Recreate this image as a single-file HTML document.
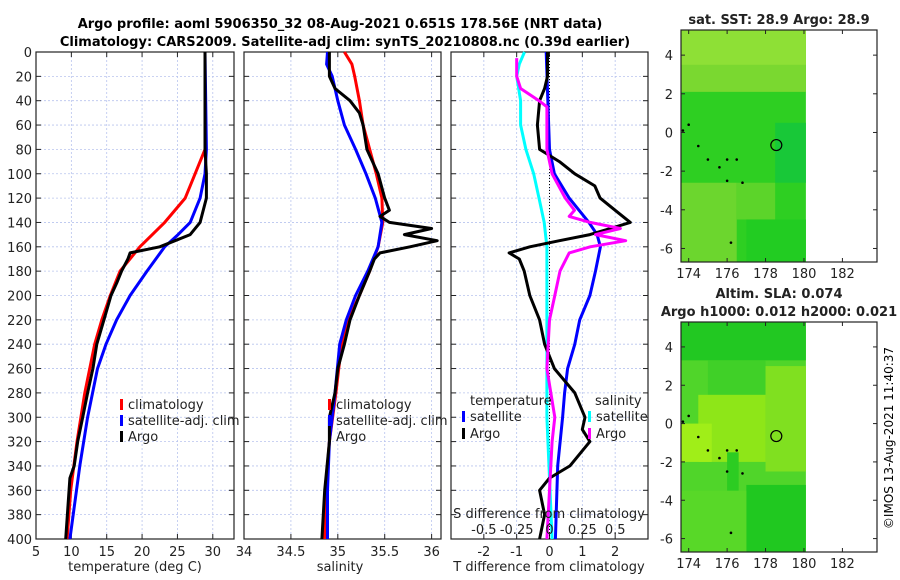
<!DOCTYPE html>
<html><head><meta charset="utf-8"><style>
body{margin:0;background:#fff;}
svg{display:block;font-family:"DejaVu Sans","Liberation Sans",sans-serif;}
</style></head><body>
<svg id="c" width="900" height="580" xmlns="http://www.w3.org/2000/svg">
<text x="340" y="28" font-size="13" font-weight="bold" text-anchor="middle">Argo profile: aoml 5906350_32 08-Aug-2021 0.651S 178.56E (NRT data)</text>
<text x="345" y="46" font-size="13" font-weight="bold" text-anchor="middle">Climatology: CARS2009. Satellite-adj clim: synTS_20210808.nc (0.39d earlier)</text>
<g id="maps"></g>
<g id="panels"></g>
<text transform="translate(893,438) rotate(-90)" font-size="12" text-anchor="middle">©IMOS 13-Aug-2021 11:40:37</text>
</svg>
<script>
// ---- data ----
const tDepth=[0,80,100,120,140,150,160,165,170,180,190,200,220,240,260,280,300,320,340,350,400];
const tArgo=[28.9,28.9,29.1,29.1,28.2,26.8,22.5,18.3,18.0,17.1,16.4,15.6,14.6,13.6,13.05,12.3,11.6,10.9,10.4,9.8,9.2];
const tcDepth=[0,80,100,120,140,160,180,200,220,240,280,320,360,400];
const tClim=[28.9,28.9,27.5,26.1,23.2,19.7,16.9,15.5,14.3,13.3,11.9,10.8,9.9,9.4];
const tsDepth=[0,80,100,120,140,150,160,180,200,220,240,260,300,340,400];
const tSat=[28.9,29.1,28.9,28.2,26.8,25.1,23.2,20.7,18.3,16.4,14.9,13.7,12.3,11.2,9.8];
const sDepth=[0,10,20,40,60,80,100,120,140,160,180,200,220,240,280,320,360,400];
const sClim=[35.07,35.15,35.18,35.23,35.27,35.34,35.41,35.47,35.48,35.43,35.34,35.23,35.11,35.04,34.98,34.91,34.87,34.86];
const sSat=[34.89,34.88,34.94,35.0,35.07,35.19,35.30,35.40,35.47,35.43,35.32,35.19,35.09,35.02,34.97,34.91,34.89,34.89];
const saDepth=[0,20,30,40,50,60,80,100,120,130,135,140,145,150,155,160,165,170,180,200,220,240,260,280,300,320,360,400];
const sArgo=[34.91,34.91,34.97,35.13,35.23,35.27,35.31,35.43,35.5,35.55,35.45,35.55,36.0,35.71,36.06,35.77,35.45,35.39,35.34,35.23,35.13,35.07,35.0,34.97,34.91,34.91,34.86,34.83];
const dtsDepth=[0,80,100,120,140,150,160,180,200,220,240,260,280,300,340,400];
const dTSat=[-0.1,0,0.15,0.6,1.2,1.45,1.55,1.4,1.23,0.92,0.77,0.55,0.46,0.4,0.25,0.18];
const dtaDepth=[0,20,30,40,60,80,90,100,110,120,130,140,145,150,155,160,165,170,180,200,220,240,260,280,300,310,320,340,350,360,380,400];
const dTArgo=[-0.06,-0.06,-0.15,-0.3,-0.37,-0.3,0.3,0.77,1.38,1.54,2.0,2.46,1.85,1.23,0.3,-0.6,-1.23,-0.92,-0.77,-0.6,-0.3,-0.15,0.15,0.77,1.08,1.0,1.23,0.62,0,-0.3,-0.15,-0.3];
const dssDepth=[0,10,20,40,60,80,100,120,140,160,200,300,400];
const dSSat=[-0.19,-0.23,-0.25,-0.22,-0.22,-0.18,-0.12,-0.08,-0.04,-0.02,-0.02,-0.02,0.02];
const dsaDepth=[5,20,30,40,45,60,80,100,120,130,135,140,145,150,155,160,165,180,200,220,260,300,320,360,400];
const dSArgo=[-0.25,-0.25,-0.22,-0.08,-0.02,-0.02,-0.02,0.02,0.12,0.19,0.15,0.31,0.54,0.35,0.58,0.31,0.15,0.08,0.04,0,-0.02,0.04,0.02,0,-0.02];
const depthTicks=[0,20,40,60,80,100,120,140,160,180,200,220,240,260,280,300,320,340,360,380,400];
const tTicks=[5,10,15,20,25,30];
const sTicks=[34,34.5,35,35.5,36];
const sTickLabels=["34","34.5","35","35.5","36"];
const dTTicks=[-2,-1,0,1,2];
const dSTicks=[-0.5,-0.25,0,0.25,0.5];
const dSTickLabels=["-0.5","-0.25","0","0.25","0.5"];
const lonTicks=[174,176,178,180,182];
const latTicks=[4,2,0,-2,-4,-6];
const argoLon=[178.56], argoLat=[-0.651];

const NS="http://www.w3.org/2000/svg";
function mk(tag,attrs,parent){const e=document.createElementNS(NS,tag);for(const k in attrs)e.setAttribute(k,attrs[k]);parent.appendChild(e);return e;}
const P=document.getElementById('panels');
const Y0=52,Y1=539;
const yS=d=>Y0+(d/400)*(Y1-Y0);
function linS(d0,d1,r0,r1){return v=>r0+(v-d0)/(d1-d0)*(r1-r0);}
function panel(name,x0,x1,dmin,dmax,xt,xtl,showY){
  const g=mk('g',{},P);
  
  
  const xs=linS(dmin,dmax,x0,x1);
  xt.forEach(v=>{const l=mk('line',{x1:xs(v),x2:xs(v),y1:Y0,y2:Y1,stroke:'#b8c4ee','stroke-width':0.8,'stroke-dasharray':'2,2'},g);});
  depthTicks.forEach(v=>{const l=mk('line',{x1:x0,x2:x1,y1:yS(v),y2:yS(v),stroke:'#b8c4ee','stroke-width':0.8,'stroke-dasharray':'2,2'},g);
    mk('line',{x1:x0,x2:x0+5,y1:yS(v),y2:yS(v),stroke:'#222'},g);mk('line',{x1:x1-5,x2:x1,y1:yS(v),y2:yS(v),stroke:'#222'},g);
    if(showY){const t=mk('text',{x:x0-4,y:yS(v)+5,'font-size':13,'text-anchor':'end',fill:'#222'},g);t.textContent=v;}
  });
  xt.forEach((v,i)=>{mk('line',{x1:xs(v),x2:xs(v),y1:Y1,y2:Y1-5,stroke:'#222'},g);mk('line',{x1:xs(v),x2:xs(v),y1:Y0,y2:Y0+5,stroke:'#222'},g);
    if(xtl){const t=mk('text',{x:xs(v),y:Y1+17,'font-size':13,'text-anchor':'middle',fill:'#222'},g);t.textContent=xtl[i];}});
  const r=mk('rect',{x:x0,y:Y0,width:x1-x0,height:Y1-Y0,fill:'none',stroke:'#222','stroke-width':1.2},g);
  
  return {g,xs};
}
function line(p,vals,deps,color,name,w){
  const pts=vals.map((v,i)=>p.xs(v).toFixed(1)+','+yS(deps[i]).toFixed(1)).join(' ');
  const l=mk('polyline',{points:pts,fill:'none',stroke:color,'stroke-width':w||3,'stroke-linejoin':'round'},p.g);
  
  
}
function txt(g,x,y,s,name,size,anchor,bold){const t=mk('text',{x:x,y:y,'font-size':size||13,'text-anchor':anchor||'start',fill:'#222','font-weight':bold?'bold':'normal'},g);t.textContent=s;return t;}
function legItem(g,x,y,color,label,name){const r=mk('rect',{x:x,y:y-10,width:3,height:11,fill:color},g);txt(g,x+8,y,label,name);}

// Panel 1
const p1=panel('temperature-panel',36,234,5,33,tTicks,tTicks.map(String),true);
line(p1,tClim,tcDepth,'#f00','climatology-temp-line');
line(p1,tSat,tsDepth,'#00f','satellite-temp-line');
line(p1,tArgo,tDepth,'#000','argo-temp-line');
legItem(p1.g,120,409,'#f00','climatology','legend-climatology');
legItem(p1.g,120,425,'#00f','satellite-adj. clim','legend-satellite');
legItem(p1.g,120,441,'#000','Argo','legend-argo');
txt(p1.g,135,571,'temperature (deg C)','x-axis-title-temperature',13,'middle');

// Panel 2
const p2=panel('salinity-panel',244,441,34,36.1,sTicks,sTickLabels,false);
line(p2,sClim,sDepth,'#f00','climatology-salinity-line');
line(p2,sSat,sDepth,'#00f','satellite-salinity-line');
line(p2,sArgo,saDepth,'#000','argo-salinity-line');
legItem(p2.g,328,409,'#f00','climatology','legend-climatology');
legItem(p2.g,328,425,'#00f','satellite-adj. clim','legend-satellite');
legItem(p2.g,328,441,'#000','Argo','legend-argo');
txt(p2.g,340,571,'salinity','x-axis-title-salinity',13,'middle');

// Panel 3
const p3=panel('difference-panel',451,648,-3,3,dTTicks,dTTicks.map(String),false);
const sx3=linS(-0.75,0.75,p3.xs(-3),p3.xs(3));
const zl=mk('line',{x1:p3.xs(0),x2:p3.xs(0),y1:Y0,y2:Y1,stroke:'#000','stroke-width':1,'stroke-dasharray':'1,2'},p3.g);

const p3s={g:p3.g,xs:sx3};
line(p3s,dSSat,dssDepth,'#0ff','satellite-salinity-diff-line');
line(p3,dTSat,dtsDepth,'#00f','satellite-temp-diff-line');
line(p3,dTArgo,dtaDepth,'#000','argo-temp-diff-line');
line(p3s,dSArgo,dsaDepth,'#f0f','argo-salinity-diff-line');
txt(p3.g,470,405,'temperature','legend-temperature-heading');
txt(p3.g,595,405,'salinity','legend-salinity-heading');
legItem(p3.g,462,421,'#00f','satellite','legend-temp-satellite');
legItem(p3.g,462,438,'#000','Argo','legend-temp-argo');
legItem(p3.g,588,421,'#0ff','satellite','legend-sal-satellite');
legItem(p3.g,588,438,'#f0f','Argo','legend-sal-argo');
txt(p3.g,549,518,'S difference from climatology','s-axis-title',13,'middle');
dSTicks.forEach((v,i)=>txt(p3.g,sx3(v),534,dSTickLabels[i],'s-tick-label',13,'middle'));
txt(p3.g,549,571,'T difference from climatology','x-axis-title-tdiff',13,'middle');

// Maps
const M=document.getElementById('maps');
function map(name,top,bot,title1,title2,blocks){
  const g=mk('g',{},M);
  
  
  const x0=681,x1=877;
  const lx=linS(173.6,183.8,x0,x1), ly=linS(5.3,-6.7,top,bot);
  blocks.forEach(b=>{const r=mk('rect',{x:lx(b[0]),y:ly(b[3]),width:lx(b[1])-lx(b[0]),height:ly(b[2])-ly(b[3]),fill:b[4]},g);});
  // islands
  [[173.7,0.1],[174,0.4],[174.5,-0.7],[175,-1.4],[175.6,-1.8],[176,-1.4],[176.5,-1.4],[176,-2.5],[176.8,-2.6],[176.2,-5.7]].forEach(p=>{const c=mk('circle',{cx:lx(p[0]),cy:ly(p[1]),r:1.3,fill:'#000'},g);});
  argoLon.forEach((v,i)=>{const c=mk('circle',{cx:lx(v),cy:ly(argoLat[i]),r:5.5,fill:'none',stroke:'#000','stroke-width':1.2},g);});
  const fr=mk('rect',{x:x0,y:top,width:x1-x0,height:bot-top,fill:'none',stroke:'#222','stroke-width':1.2},g);
  lonTicks.forEach(v=>{mk('line',{x1:lx(v),x2:lx(v),y1:bot,y2:bot-4,stroke:'#222'},g);mk('line',{x1:lx(v),x2:lx(v),y1:top,y2:top+4,stroke:'#222'},g);txt(g,lx(v),bot+16,String(v),'lon-tick-label',13,'middle');});
  latTicks.forEach(v=>{mk('line',{x1:x0,x2:x0+4,y1:ly(v),y2:ly(v),stroke:'#222'},g);mk('line',{x1:x1-4,x2:x1,y1:ly(v),y2:ly(v),stroke:'#222'},g);txt(g,x0-8,ly(v)+5,String(v),'lat-tick-label',13,'end');});
  txt(g,779,top-(title2?24:6),title1,'map-title',13,'middle',true);
  if(title2)txt(g,779,top-6,title2,'map-subtitle',13,'middle',true);
}
map('sst-map',30,262,'sat. SST: 28.9 Argo: 28.9',null,[
  [173.6,180.1,-6.7,5.3,'#2ecf22'],
  [173.6,180.1,2.1,5.3,'#7ad830'],
  [173.6,180.1,3.5,5.3,'#8ee036'],
  [173.6,176.5,-6.7,-2.6,'#6cd62e'],
  [176.5,178.5,-4.5,-2.6,'#5cd42a'],
  [178.5,180.1,-2.6,0.5,'#18c838'],
  [177,180.1,-6.7,-4.5,'#22cc22']]);
map('sla-map',322,552,'Altim. SLA: 0.074','Argo h1000: 0.012 h2000: 0.021',[
  [173.6,180.1,-6.7,5.3,'#50d52a'],
  [173.6,180.1,3.3,5.3,'#22c822'],
  [175,178,1.5,3.3,'#40d028'],
  [174.5,178,-2,1.5,'#8ee618'],
  [178,180.1,-2.5,3,'#80e020'],
  [173.6,175.2,-2,0,'#a0ee18'],
  [176,176.6,-4.3,-1.5,'#2ccc22'],
  [177,180.1,-6.7,-3.2,'#20c820'],
  [173.6,177,-6.7,-3.5,'#58d828']]);
</script>
</body></html>
